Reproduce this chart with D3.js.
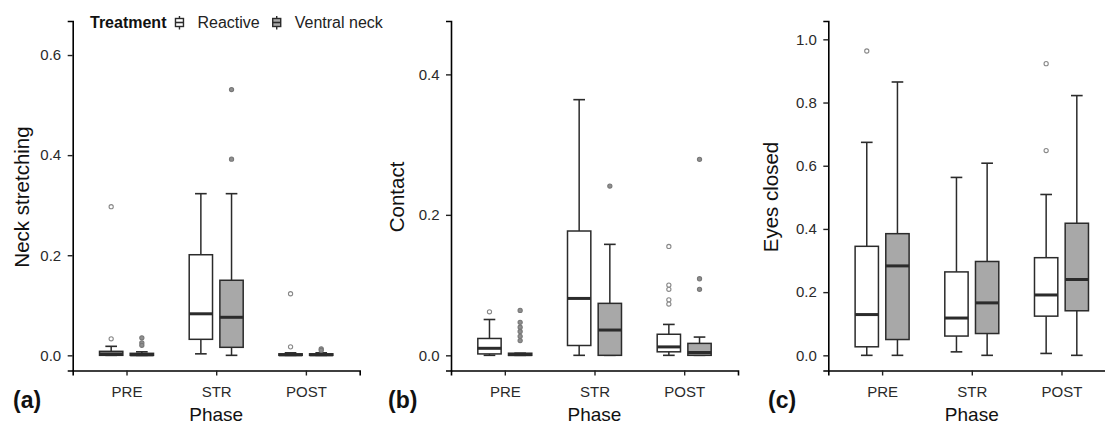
<!DOCTYPE html>
<html>
<head>
<meta charset="utf-8">
<script src="https://cdn.jsdelivr.net/npm/d3@7"></script>
<style>
  body { margin: 0; background: #fff; }
  text { font-family: "Liberation Sans", Arial, sans-serif; }
</style>
</head>
<body>
<svg id="chartsvg" width="1105" height="427"></svg>
<script>
var vis = d3.select("#chartsvg");

let phases = ["PRE", "STR", "POST"];
let treatments = ["Reactive", "Ventral neck"];

// [phase, treatment, lower whisker, q1, median, q3, upper whisker]
const neckStats = [
    ["PRE", "Reactive", 0, 0, 0.003, 0.008, 0.018],
    ["PRE", "Ventral neck", 0, 0, 0.001, 0.004, 0.007],
    ["STR", "Reactive", 0.003, 0.032, 0.083, 0.201, 0.323],
    ["STR", "Ventral neck", 0, 0.016, 0.076, 0.150, 0.323],
    ["POST", "Reactive", 0, 0, 0.001, 0.003, 0.005],
    ["POST", "Ventral neck", 0, 0, 0.001, 0.003, 0.005]
];
const neckOutliers = [
    ["PRE", "Reactive", 0.297], ["PRE", "Reactive", 0.033],
    ["PRE", "Ventral neck", 0.035], ["PRE", "Ventral neck", 0.025], ["PRE", "Ventral neck", 0.020],
    ["STR", "Ventral neck", 0.531], ["STR", "Ventral neck", 0.392],
    ["POST", "Reactive", 0.123], ["POST", "Reactive", 0.017],
    ["POST", "Ventral neck", 0.013], ["POST", "Ventral neck", 0.010]
];

const contactStats = [
    ["PRE", "Reactive", 0, 0.002, 0.010, 0.024, 0.051],
    ["PRE", "Ventral neck", 0, 0, 0.001, 0.003, 0.003],
    ["STR", "Reactive", 0, 0.014, 0.081, 0.177, 0.364],
    ["STR", "Ventral neck", 0, 0, 0.036, 0.074, 0.158],
    ["POST", "Reactive", 0, 0.005, 0.012, 0.030, 0.044],
    ["POST", "Ventral neck", 0, 0, 0.004, 0.017, 0.026]
];
const contactOutliers = [
    ["PRE", "Reactive", 0.062],
    ["PRE", "Ventral neck", 0.064], ["PRE", "Ventral neck", 0.047], ["PRE", "Ventral neck", 0.040],
    ["PRE", "Ventral neck", 0.034], ["PRE", "Ventral neck", 0.027], ["PRE", "Ventral neck", 0.021],
    ["STR", "Ventral neck", 0.241],
    ["POST", "Reactive", 0.155], ["POST", "Reactive", 0.100], ["POST", "Reactive", 0.094],
    ["POST", "Reactive", 0.079], ["POST", "Reactive", 0.073],
    ["POST", "Ventral neck", 0.279], ["POST", "Ventral neck", 0.109], ["POST", "Ventral neck", 0.094]
];

const eyesStats = [
    ["PRE", "Reactive", 0, 0.027, 0.129, 0.345, 0.674],
    ["PRE", "Ventral neck", 0, 0.050, 0.283, 0.385, 0.865],
    ["STR", "Reactive", 0.011, 0.061, 0.118, 0.264, 0.563],
    ["STR", "Ventral neck", 0, 0.069, 0.166, 0.297, 0.608],
    ["POST", "Reactive", 0.006, 0.124, 0.191, 0.309, 0.509],
    ["POST", "Ventral neck", 0, 0.141, 0.240, 0.418, 0.822]
];
const eyesOutliers = [
    ["PRE", "Reactive", 0.963],
    ["POST", "Reactive", 0.923], ["POST", "Reactive", 0.648]
];

const yTitles = ["Neck stretching", "Contact", "Eyes closed"];
const panelLabels = ["(a)", "(b)", "(c)"];
const yTickValues = [[0, 0.2, 0.4, 0.6], [0, 0.2, 0.4], [0, 0.2, 0.4, 0.6, 0.8, 1.0]];
const yDomains = [[-0.0303, 0.668], [-0.0216, 0.476], [-0.048, 1.058]];

// layout
const panelLeft = [72.7, 451, 828.3];
const yTitleX = [28.5, 403.5, 777.5];
const labelX = [13, 388, 768];
const panelWidth = 287;
const axisY = 370.5, axisTop = 21;
const fills = {"Reactive": "#ffffff", "Ventral neck": "#a8a8a8"};
const lineCol = "#2b2b2b";

function translate(x, y) { return "translate(" + x + "," + y + ")"; }

function drawPanel(i, stats, outliers) {
    var g = vis.append("g").attr("transform", translate(panelLeft[i], 0));

    var x = d3.scalePoint().domain(phases).range([0, panelWidth]).padding(0.6);
    var y = d3.scaleLinear().domain(yDomains[i]).range([axisY, axisTop]);
    var off = x.step() * 0.171;
    var bw = x.step() * 0.26;
    var cx = (p, t) => x(p) + (t == treatments[0] ? -off : off);

    var boxes = g.selectAll(".box").data(stats).enter().append("g").attr("class", "box");
    // whiskers + caps
    boxes.append("line")
        .attr("x1", d => cx(d[0], d[1])).attr("x2", d => cx(d[0], d[1]))
        .attr("y1", d => y(d[2])).attr("y2", d => y(d[6]))
        .attr("stroke", lineCol).attr("stroke-width", 1.5);
    [2, 6].forEach(k => {
        boxes.append("line")
            .attr("x1", d => cx(d[0], d[1]) - bw / 4).attr("x2", d => cx(d[0], d[1]) + bw / 4)
            .attr("y1", d => y(d[k])).attr("y2", d => y(d[k]))
            .attr("stroke", lineCol).attr("stroke-width", 1.6);
    });
    boxes.append("rect")
        .attr("x", d => cx(d[0], d[1]) - bw / 2)
        .attr("y", d => y(d[5]))
        .attr("width", bw)
        .attr("height", d => Math.max(0.5, y(d[3]) - y(d[5])))
        .attr("fill", d => fills[d[1]])
        .attr("stroke", lineCol).attr("stroke-width", 1.5);
    boxes.append("line")
        .attr("x1", d => cx(d[0], d[1]) - bw / 2).attr("x2", d => cx(d[0], d[1]) + bw / 2)
        .attr("y1", d => y(d[4])).attr("y2", d => y(d[4]))
        .attr("stroke", lineCol).attr("stroke-width", 3);

    g.selectAll(".outlier").data(outliers).enter().append("circle")
        .attr("class", "outlier")
        .attr("cx", d => cx(d[0], d[1]))
        .attr("cy", d => y(d[2]))
        .attr("r", 2.1)
        .attr("fill", d => d[1] == treatments[0] ? "#ffffff" : "#8f8f8f")
        .attr("stroke", d => d[1] == treatments[0] ? "#888888" : "#777777")
        .attr("stroke-width", 1.1);

    var yAxis = g.append("g").attr("class", "y-axis")
        .call(d3.axisLeft(y).tickValues(yTickValues[i]).tickFormat(d3.format(".1f"))
            .tickSizeOuter(0).tickSize(5).tickPadding(6.5));
    var xAxis = g.append("g").attr("class", "x-axis")
        .attr("transform", translate(0, axisY))
        .call(d3.axisBottom(x).tickSizeOuter(0).tickSize(5).tickPadding(11));
    [yAxis, xAxis].forEach(a => {
        a.select(".domain").attr("stroke", "#000").attr("stroke-width", 1.6);
        a.selectAll(".tick line").attr("stroke", "#222").attr("stroke-width", 1.4);
        a.selectAll(".tick text").attr("fill", "#2a2a2a").style("font-size", "15px");
    });

    g.append("text")
        .attr("x", panelWidth / 2).attr("y", 421)
        .attr("text-anchor", "middle")
        .style("font-size", "19px").attr("fill", "#111")
        .text("Phase");

    vis.append("text")
        .attr("transform", translate(yTitleX[i], 197) + " rotate(-90)")
        .attr("text-anchor", "middle")
        .style("font-size", "20.5px").attr("fill", "#111")
        .text(yTitles[i]);

    vis.append("text")
        .attr("x", labelX[i]).attr("y", 408)
        .style("font-size", "23px").style("font-weight", "bold").attr("fill", "#111")
        .text(panelLabels[i]);
}

function drawLegend() {
    var lg = vis.append("g");
    var title = lg.append("text").attr("x", 90).attr("y", 28)
        .style("font-size", "16px").style("font-weight", "bold").attr("fill", "#111")
        .text("Treatment");
    var pos = 90 + title.node().getComputedTextLength() + 13;
    treatments.forEach(t => {
        lg.append("line").attr("x1", pos).attr("x2", pos).attr("y1", 16).attr("y2", 29.5)
            .attr("stroke", lineCol).attr("stroke-width", 1.4);
        lg.append("rect").attr("x", pos - 4).attr("y", 18.5).attr("width", 8).attr("height", 8)
            .attr("fill", fills[t]).attr("stroke", lineCol).attr("stroke-width", 1.4);
        lg.append("line").attr("x1", pos - 4).attr("x2", pos + 4).attr("y1", 22.5).attr("y2", 22.5)
            .attr("stroke", lineCol).attr("stroke-width", 1.6);
        var lab = lg.append("text").attr("x", pos + 18).attr("y", 28)
            .style("font-size", "16px").attr("fill", "#222")
            .text(t);
        pos = pos + 18 + lab.node().getComputedTextLength() + 17;
    });
}

drawPanel(0, neckStats, neckOutliers);
drawPanel(1, contactStats, contactOutliers);
drawPanel(2, eyesStats, eyesOutliers);
drawLegend();
</script>
</body>
</html>
